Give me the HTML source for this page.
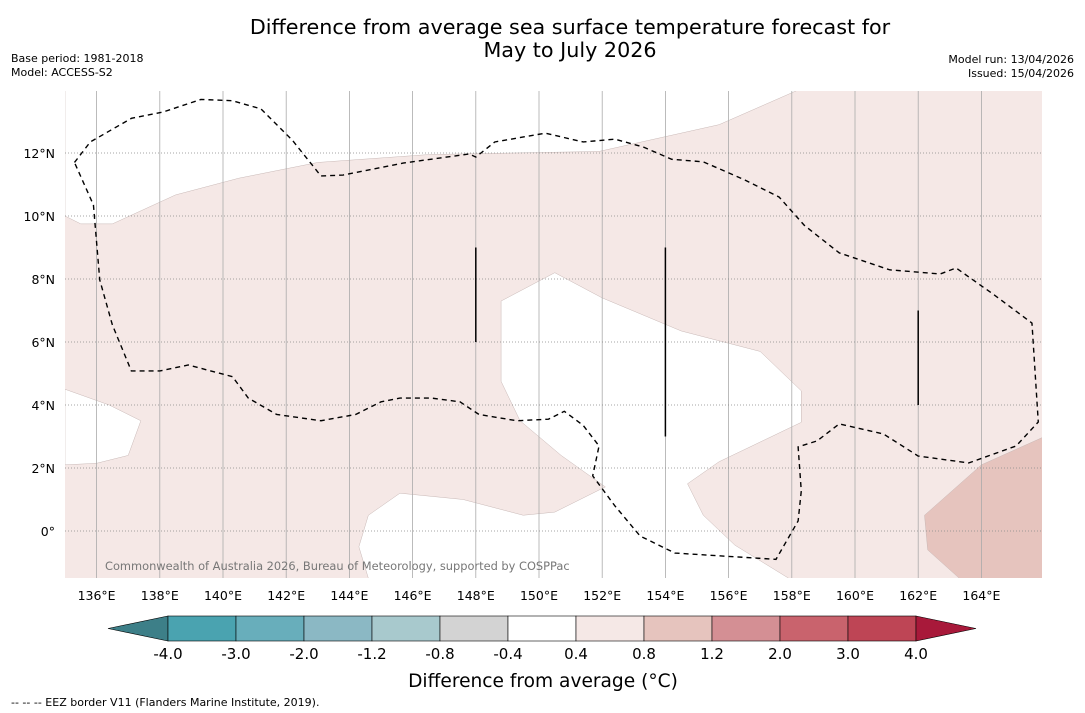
<!DOCTYPE html>
<html><head><meta charset="utf-8">
<style>
body{margin:0;background:#fff;width:1085px;height:713px;overflow:hidden;font-family:"DejaVu Sans","Liberation Sans",sans-serif;}
svg{position:absolute;left:0;top:0}
</style></head>
<body>
<svg width="1085" height="713">
<defs><clipPath id="mapclip"><rect x="65" y="91" width="977" height="487"/></clipPath></defs>
<text x="570" y="34" font-size="20.7" text-anchor="middle">Difference from average sea surface temperature forecast for</text>
<text x="570" y="57" font-size="20.7" text-anchor="middle">May to July 2026</text>
<text x="11" y="62" font-size="11">Base period: 1981-2018</text>
<text x="11" y="76" font-size="11">Model: ACCESS-S2</text>
<text x="1074" y="63" font-size="11" text-anchor="end">Model run: 13/04/2026</text>
<text x="1074" y="77" font-size="11" text-anchor="end">Issued: 15/04/2026</text>
<g id="map"></g>
<g id="cbar"></g>
<text x="543" y="687" font-size="18.6" text-anchor="middle">Difference from average (°C)</text>
<text x="11" y="706" font-size="11">--  --  -- EEZ border V11 (Flanders Marine Institute, 2019).</text>
</svg>
<script>
const NS="http://www.w3.org/2000/svg";
const lonTicks=[136,138,140,142,144,146,148,150,152,154,156,158,160,162,164];
const latTicks=[0,2,4,6,8,10,12];
const cbarLabels=["-4.0","-3.0","-2.0","-1.2","-0.8","-0.4","0.4","0.8","1.2","2.0","3.0","4.0"];
const cbarColors=["#4aa3b0","#68aebb","#8bb8c4","#a8c9cd","#d3d3d3","#ffffff","#f5e8e6","#e6c4be","#d48f94","#c9636d","#be4555"];
const whiteTop=[[135,10],[135.5,9.75],[136.5,9.75],[138.5,10.67],[140.5,11.2],[143,11.7],[146.5,11.95],[151.9,12.05],[155.7,12.9],[158.2,14],[135,14]];
const whiteLeft=[[135,4.5],[136.4,4.0],[137.4,3.5],[137,2.4],[136,2.15],[135,2.1]];
const whiteCenter=[[150.5,8.2],[148.8,7.3],[148.8,4.75],[149.4,3.5],[150.7,2.4],[152.1,1.4],[150.5,0.6],[149.5,0.5],[147.6,1.0],[145.6,1.2],[144.6,0.5],[144.3,-0.5],[144.6,-1.5],[157.9,-1.5],[156.2,-0.45],[155.2,0.5],[154.7,1.5],[155.7,2.2],[158.3,3.45],[158.3,4.45],[157,5.7],[154.5,6.35],[152,7.4]];
const warmPatch=[[166,3.0],[164,2.1],[162.2,0.5],[162.3,-0.6],[163.3,-1.5],[166,-1.5]];
const eez=[[135.3,11.7],[135.8,12.35],[137.1,13.1],[138.1,13.3],[139.3,13.7],[140.3,13.66],[141.2,13.4],[142.2,12.4],[143.1,11.27],[143.8,11.3],[145.7,11.68],[147.8,11.97],[148,11.87],[148.6,12.35],[150.2,12.63],[151.4,12.35],[152.4,12.44],[153.3,12.19],[154.2,11.8],[155.2,11.72],[156.5,11.15],[157.6,10.6],[158.4,9.7],[159.5,8.83],[161.1,8.29],[162.7,8.16],[163.2,8.35],[164.4,7.5],[165.6,6.6],[165.8,3.46],[165.1,2.7],[163.6,2.16],[162,2.38],[160.9,3.08],[159.5,3.4],[158.8,2.86],[158.2,2.67],[158.3,1.27],[158.2,0.32],[157.5,-0.9],[154.3,-0.7],[153.2,-0.16],[152.4,0.8],[151.7,1.75],[151.9,2.7],[151.4,3.35],[150.8,3.8],[150.3,3.55],[149.3,3.5],[148.1,3.7],[147.5,4.1],[146.6,4.22],[145.6,4.22],[145,4.1],[144.2,3.7],[143.1,3.5],[141.7,3.7],[140.8,4.22],[140.3,4.9],[138.9,5.27],[138,5.08],[137.1,5.08],[136.5,6.54],[136.1,7.97],[135.9,10.35],[135.3,11.7]];
const segments=[[148,6,9],[154,3,9],[162,4,7]];
function X(lon){return 96.6+(lon-136)*31.6;}
function Y(lat){return 531-lat*31.5;}
const root=document.getElementById('map');
const map=document.createElementNS(NS,'g');map.setAttribute('clip-path','url(#mapclip)');root.appendChild(map);
function mk(tag,attrs,parent){const e=document.createElementNS(NS,tag);for(const k in attrs)e.setAttribute(k,attrs[k]);(parent||map).appendChild(e);return e;}
const L=65,R=1042,T=91,B=578;
let e=mk('rect',{x:L,y:T,width:R-L,height:B-T,fill:'#f5e8e6'});


function poly(pts,fill,name){const p=mk('polygon',{points:pts.map(q=>X(q[0])+','+Y(q[1])).join(' '),fill:fill,stroke:'#c8b8b6','stroke-width':0.5});

}
poly(whiteTop,'#ffffff','neutral-region-north');
poly(whiteLeft,'#ffffff','neutral-region-west');
poly(whiteCenter,'#ffffff','neutral-region-central');
poly(warmPatch,'#e6c4be','warm-region-southeast');
lonTicks.forEach(l=>{const g=mk('line',{x1:X(l),x2:X(l),y1:T,y2:B,stroke:'#aaa','stroke-width':0.8});


const t=mk('text',{x:X(l),y:B+22,'font-size':12.5,'text-anchor':'middle'},root);t.textContent=l+'°E';

});
latTicks.forEach(l=>{const g=mk('line',{x1:L,x2:R,y1:Y(l),y2:Y(l),stroke:'#888','stroke-width':0.8,'stroke-dasharray':'1,2'});


const t=mk('text',{x:55,y:Y(l)+5,'font-size':12.5,'text-anchor':'end'},root);t.textContent=l===0?'0°':l+'°N';

});
const d=mk('polyline',{points:eez.map(q=>X(q[0])+','+Y(q[1])).join(' '),fill:'none',stroke:'#000','stroke-width':1.4,'stroke-dasharray':'5,4'});


segments.forEach((s,i)=>{const l=mk('line',{x1:X(s[0]),x2:X(s[0]),y1:Y(s[2]),y2:Y(s[1]),stroke:'#000','stroke-width':1.5});

});
const c=mk('text',{x:105,y:570,'font-size':11.4,fill:'#777'});c.textContent='Commonwealth of Australia 2026, Bureau of Meteorology, supported by COSPPac';


const cb=document.getElementById('cbar');
const cx0=168,cw=68,cy=616,ch=25;
let tri=mk('polygon',{points:`108,${cy+ch/2} ${cx0},${cy} ${cx0},${cy+ch}`,fill:'#3d7f88',stroke:'#000','stroke-width':0.6},cb);


cbarColors.forEach((col,i)=>{const r=mk('rect',{x:cx0+i*cw,y:cy,width:cw,height:ch,fill:col,stroke:'#000','stroke-width':0.6},cb);

});
const xe=cx0+cbarColors.length*cw;
tri=mk('polygon',{points:`${xe},${cy} ${xe+60},${cy+ch/2} ${xe},${cy+ch}`,fill:'#a8193a',stroke:'#000','stroke-width':0.6},cb);


cbarLabels.forEach((lb,i)=>{const t=mk('text',{x:cx0+i*cw,y:659,'font-size':15,'text-anchor':'middle'},cb);t.textContent=lb;

});
</script>
</body></html>
